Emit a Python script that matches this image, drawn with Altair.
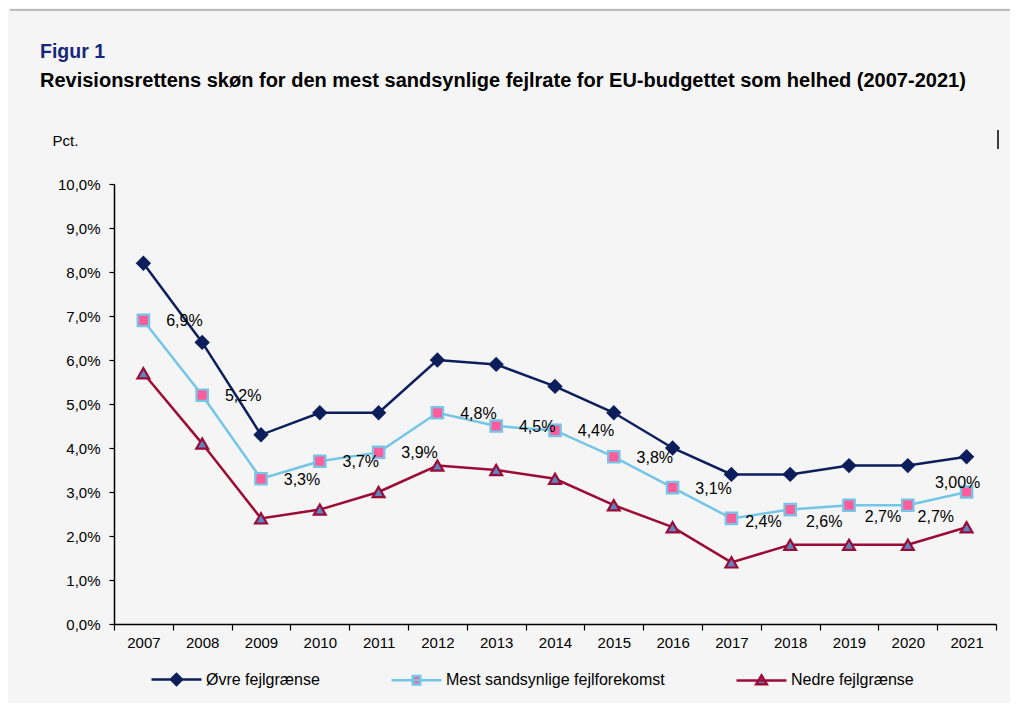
import altair as alt
import pandas as pd

years = ["2007", "2008", "2009", "2010", "2011", "2012", "2013", "2014",
         "2015", "2016", "2017", "2018", "2019", "2020", "2021"]
series_names = ["Øvre fejlgrænse", "Mest sandsynlige fejlforekomst", "Nedre fejlgrænse"]
upper = [8.2, 6.4, 4.3, 4.8, 4.8, 6.0, 5.9, 5.4, 4.8, 4.0, 3.4, 3.4, 3.6, 3.6, 3.8]
middle = [6.9, 5.2, 3.3, 3.7, 3.9, 4.8, 4.5, 4.4, 3.8, 3.1, 2.4, 2.6, 2.7, 2.7, 3.0]
lower = [5.7, 4.1, 2.4, 2.6, 3.0, 3.6, 3.5, 3.3, 2.7, 2.2, 1.4, 1.8, 1.8, 1.8, 2.2]
middle_labels = ["6,9%", "5,2%", "3,3%", "3,7%", "3,9%", "4,8%", "4,5%", "4,4%",
                 "3,8%", "3,1%", "2,4%", "2,6%", "2,7%", "2,7%", "3,00%"]

# label placement groups (style only)
label_group = ["a"] * 10 + ["b", "c", "c", "d", "e"]
label_offsets = {"a": (41, 1), "b": (32, 4), "c": (34, 12), "d": (28, 12), "e": (-9, -9)}

FONT = "Liberation Sans"
NAVY = "#0c1f5c"
LBLUE = "#74c6e6"
DRED = "#9c0a36"
PINK = "#ff5c9c"
SBLUE = "#5a88c6"

rows = []
for name, vals in zip(series_names, [upper, middle, lower]):
    for y, v in zip(years, vals):
        rows.append({"year": y, "serie": name, "value": v})
df = pd.DataFrame(rows)

df_lbl = pd.DataFrame({"year": years, "value": middle, "label": middle_labels, "grp": label_group})

x_enc = alt.X("year:O", title=None,
              scale=alt.Scale(type="band", paddingInner=0, paddingOuter=0),
              axis=alt.Axis(tickBand="extent", labelAngle=0, labelFontSize=15, labelFont=FONT,
                            labelColor="black", domainColor="black", domainWidth=1.5,
                            tickColor="black", tickWidth=1.2, tickSize=6, labelPadding=5,
                            grid=False))
y_enc = alt.Y("value:Q",
              scale=alt.Scale(domain=[0, 10], nice=False),
              axis=alt.Axis(values=list(range(11)),
                            labelExpr="replace(format(datum.value, '.1f'), '.', ',') + '%'",
                            title="Pct.", titleAngle=0, titleX=-62, titleY=-44,
                            titleAlign="left", titleBaseline="middle", titleFontWeight="normal",
                            titleFontSize=15, titleFont=FONT, titleColor="black",
                            labelFontSize=15, labelFont=FONT, labelColor="black",
                            domainColor="black", domainWidth=1.5, tickColor="black",
                            tickWidth=1.2, tickSize=5, labelPadding=9, grid=False))

legend_paths = [
    "M-1,0H1M-0.22,0L0,-0.22L0.22,0L0,0.22Z",
    "M-1,0H1M-0.15,-0.17H0.15V0.17H-0.15Z",
    "M-1,0H1M0,-0.2L0.21,0.15L-0.21,0.15Z",
]
legend = alt.Legend(title=None, orient="none", legendX=36, legendY=469, direction="horizontal",
                    symbolSize=2500, symbolStrokeWidth=2.5, labelFontSize=16, labelFont=FONT,
                    labelColor="black", columnPadding=66, labelOffset=3, padding=0,
                    symbolOpacity=1, labelLimit=500)

stroke_enc = alt.Stroke("serie:N", scale=alt.Scale(domain=series_names, range=[NAVY, LBLUE, DRED]),
                        legend=legend)
fill_enc = alt.Fill("serie:N", scale=alt.Scale(domain=series_names, range=[NAVY, PINK, SBLUE]),
                    legend=legend)

base = alt.Chart(df)
lines = base.mark_line(strokeWidth=2.5).encode(
    x=x_enc, y=y_enc, stroke=stroke_enc, detail="serie:N",
    order=alt.Order("year:O"))

marker_styles = {
    "Øvre fejlgrænse": ("diamond", 150),
    "Mest sandsynlige fejlforekomst": ("square", 130),
    "Nedre fejlgrænse": ("triangle-up", 140),
}
point_layers = []
for name, (shp, sz) in marker_styles.items():
    point_layers.append(
        base.transform_filter(alt.datum.serie == name)
        .mark_point(opacity=1, strokeWidth=2.2, shape=shp, size=sz)
        .encode(x=x_enc, y=y_enc, stroke=stroke_enc, fill=fill_enc)
    )

# legend-only layer (draws nothing, supplies line+marker legend symbols)
legend_layer = base.transform_filter("false").mark_point(opacity=1, strokeWidth=2.5).encode(
    x=x_enc, y=y_enc, stroke=stroke_enc, fill=fill_enc,
    shape=alt.Shape("serie:N", scale=alt.Scale(domain=series_names, range=legend_paths),
                    legend=legend))

texts = []
for g, (dx, dy) in label_offsets.items():
    texts.append(
        alt.Chart(df_lbl).transform_filter(alt.datum.grp == g)
        .mark_text(dx=dx, dy=dy, fontSize=16, font=FONT, color="black")
        .encode(x=x_enc, y=y_enc, text="label:N")
    )

deco_df = pd.DataFrame({"k": [0]})
top_line = alt.Chart(deco_df).mark_rule(color="#a8a8a8", strokeWidth=1.5).encode(
    x=alt.value(-104), x2=alt.value(896), y=alt.value(-174))
bar = alt.Chart(deco_df).mark_rule(color="black", strokeWidth=1.5).encode(
    x=alt.value(884), y=alt.value(-54), y2=alt.value(-35))

chart = alt.layer(lines, *point_layers, legend_layer, *texts, top_line, bar).properties(
    width=882, height=440,
    autosize=alt.AutoSizeParams(type="none"),
    padding={"left": 106, "top": 176, "right": 14, "bottom": 79},
    background="#f5f5f5",
    title=alt.TitleParams(
        text="Figur 1",
        subtitle="Revisionsrettens skøn for den mest sandsynlige fejlrate for EU-budgettet som helhed (2007-2021)",
        anchor="start", frame="group", dx=-74, offset=-83,
        font=FONT, fontSize=19.5, fontWeight="bold", color="#15287a",
        subtitleFont=FONT, subtitleFontSize=20, subtitleFontWeight="bold",
        subtitleColor="black", subtitlePadding=9),
).configure_view(stroke=None)

chart.save("out.html", embed_options={"renderer": "svg", "actions": False})
